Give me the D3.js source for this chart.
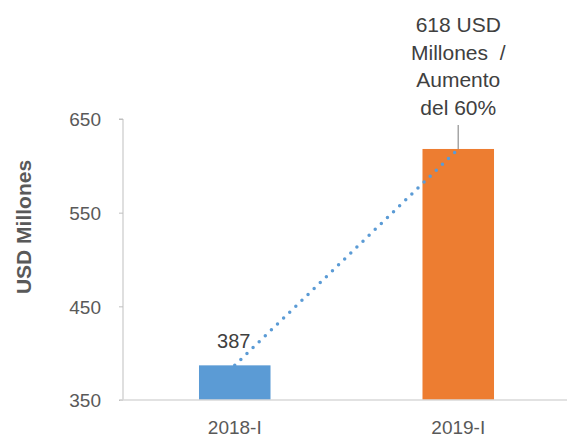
<!DOCTYPE html>
<meta charset="utf-8">
<style>
body { margin: 0; background: #fff; }
text { font-family: "Liberation Sans", Arial, sans-serif; }
.tick text { fill: #595959; font-size: 19px; }
.axis path, .axis line { stroke: #bfbfbf; }
</style>
<body>
<script src="https://d3js.org/d3.v7.min.js"></script>
<script>

var width = 567,
    height = 438;

var categories = ["2018-I", "2019-I"];
var values = [387, 618];
var colors = ["#5b9bd5", "#ed7d31"];
var yTicks = [350, 450, 550, 650];
var valueLabels = ["387", ""];
var noteLines = ["618 USD", "Millones  /", "Aumento", "del 60%"];

var x = d3.scaleBand()
    .domain(categories)
    .range([123, 570])
    .paddingInner(0.68)
    .paddingOuter(0.34);

var y = d3.scaleLinear()
    .domain([350, 650])
    .range([400, 119]);

var svg = d3.select("body").append("svg")
    .attr("width", width)
    .attr("height", height);

// y axis
var yAxis = svg.append("g")
    .attr("class", "axis")
    .attr("transform", "translate(123,0)")
    .call(d3.axisLeft(y).tickValues(yTicks).tickSize(4).tickPadding(18));
yAxis.select(".domain").attr("d", "M-4," + y(650) + "H0V" + y(350) + "H-4");
yAxis.selectAll(".tick text").attr("dy", "0.36em");

svg.append("text")
    .attr("transform", "translate(31,227) rotate(-90)")
    .attr("text-anchor", "middle")
    .style("font-size", "21px")
    .style("font-weight", "bold")
    .style("fill", "#595959")
    .text("USD Millones");

// bars
svg.selectAll(".bar")
    .data(categories)
  .enter().append("rect")
    .attr("class", "bar")
    .attr("x", function(d) { return x(d); })
    .attr("width", x.bandwidth())
    .attr("y", function(d, i) { return y(values[i]); })
    .attr("height", function(d, i) { return y(350) - y(values[i]); })
    .attr("fill", function(d, i) { return colors[i]; });

// x axis line
svg.append("line")
    .attr("x1", 120).attr("x2", width)
    .attr("y1", y(350)).attr("y2", y(350))
    .attr("stroke", "#d9d9d9")
    .attr("stroke-width", 1.5);

svg.selectAll(".cat")
    .data(categories)
  .enter().append("text")
    .attr("class", "cat")
    .attr("x", function(d) { return x(d) + x.bandwidth() / 2; })
    .attr("y", 434)
    .attr("text-anchor", "middle")
    .style("font-size", "19px")
    .style("fill", "#595959")
    .text(function(d) { return d; });

// dotted trend line
var line = d3.line()
    .x(function(d, i) { return x(categories[i]) + x.bandwidth() / 2; })
    .y(function(d) { return y(d); });

svg.append("path")
    .datum(values)
    .attr("d", line)
    .attr("fill", "none")
    .attr("stroke", "#5b9bd5")
    .attr("stroke-width", 3.5)
    .attr("stroke-linecap", "round")
    .attr("stroke-dasharray", "0,8.5");

// value labels
svg.selectAll(".val")
    .data(valueLabels)
  .enter().append("text")
    .attr("class", "val")
    .attr("x", function(d, i) { return x(categories[i]) + x.bandwidth() / 2 - 1; })
    .attr("y", function(d, i) { return y(values[i]) - 17; })
    .attr("text-anchor", "middle")
    .style("font-size", "20px")
    .style("fill", "#404040")
    .text(function(d) { return d; });

// callout for 2019-I
var cx = x(categories[1]) + x.bandwidth() / 2;
svg.append("line")
    .attr("x1", cx).attr("x2", cx)
    .attr("y1", 125).attr("y2", y(values[1]))
    .attr("stroke", "#a6a6a6")
    .attr("stroke-width", 1.5);

svg.selectAll(".note")
    .data(noteLines)
  .enter().append("text")
    .attr("class", "note")
    .attr("x", cx)
    .attr("y", function(d, i) { return 32 + i * 27.7; })
    .attr("text-anchor", "middle")
    .style("font-size", "21px")
    .style("fill", "#404040")
    .style("white-space", "pre")
    .text(function(d) { return d; });

</script>
